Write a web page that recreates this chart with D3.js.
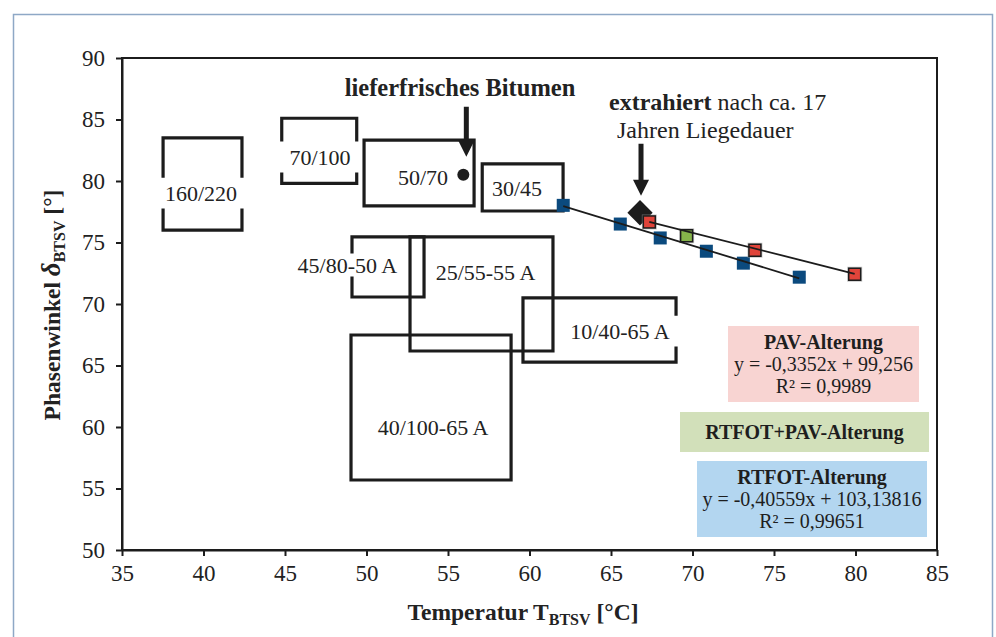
<!DOCTYPE html>
<html>
<head>
<meta charset="utf-8">
<script src="https://cdn.jsdelivr.net/npm/d3@7"></script>
<style>
  body { margin: 0; background: #fff; }
  svg { display: block; font-family: "Liberation Serif", "Times New Roman", serif; }
</style>
</head>
<body>
<svg id="chart" width="996" height="637"></svg>
<script>
// ---- axis ticks ----
const tempTicks = [35, 40, 45, 50, 55, 60, 65, 70, 75, 80, 85];
const phaseTicks = [50, 55, 60, 65, 70, 75, 80, 85, 90];

// ---- measured samples: temperature T_BTSV [°C] and phase angle δ_BTSV [°] ----
const rtfotTemp  = [62.07, 65.57, 68.02, 70.85, 73.12, 76.55];
const rtfotPhase = [78.02, 76.50, 75.37, 74.29, 73.32, 72.18];

const pavTemp  = [67.35, 73.83, 79.95];
const pavPhase = [76.67, 74.37, 72.42];

const rtfotPavTemp  = [69.64];
const rtfotPavPhase = [75.55];

const extractedTemp  = [66.78];
const extractedPhase = [77.42];

const freshTemp  = [55.94];
const freshPhase = [80.51];

// ---- linear fits ----
const rtfotFit = { slope: -0.40559, intercept: 103.13816, r2: 0.99651 };
const pavFit   = { slope: -0.3352,  intercept: 99.256,    r2: 0.9989 };

// ---- bitumen grade ranges ----
const gradeNames   = ["160/220", "70/100", "50/70", "30/45", "45/80-50 A", "25/55-55 A", "10/40-65 A", "40/100-65 A"];
const gradeTempMin = [37.52, 44.80, 49.85, 57.10, 49.11, 52.67, 59.60, 49.05];
const gradeTempMax = [42.36, 49.40, 56.60, 62.06, 53.53, 61.44, 68.99, 58.87];
const gradePhaseMin = [76.00, 79.80, 77.97, 77.56, 70.57, 66.18, 65.28, 55.69];
const gradePhaseMax = [83.50, 85.10, 83.33, 81.40, 75.45, 75.45, 70.49, 67.48];

// label anchors for the grade boxes (data units) and which box sides open up around the label
const gradeLabelLayout = [
  { t: 39.85, p: 79.02, gap: "lr", half: 17 },
  { t: 47.15, p: 81.95, gap: "lr", half: 17 },
  { t: 53.47, p: 80.33, gap: "",   half: 0 },
  { t: 59.23, p: 79.43, gap: "",   half: 0 },
  { t: 48.83, p: 73.17, gap: "l",  half: 13 },
  { t: 57.30, p: 72.60, gap: "",   half: 0 },
  { t: 65.55, p: 67.80, gap: "r",  half: 17 },
  { t: 54.08, p: 60.00, gap: "",   half: 0 }
];

const svg = d3.select("#chart");
const W = 996, H = 637;
const plot = { left: 122, right: 937, top: 58, bottom: 550 };

const x = d3.scaleLinear().domain([35, 85]).range([plot.left, plot.right]);
const y = d3.scaleLinear().domain([50, 90]).range([plot.bottom, plot.top]);

const ink = "#1c1c1c";
const de = v => String(v).replace(".", ",");

// outer frame (open at the bottom)
svg.append("path")
  .attr("d", `M13.5,${H + 5} V14.5 H992.5 V${H + 5}`)
  .attr("fill", "none").attr("stroke", "#8ea8c6").attr("stroke-width", 1.5);

// plot frame
svg.append("rect")
  .attr("x", plot.left).attr("y", plot.top)
  .attr("width", plot.right - plot.left).attr("height", plot.bottom - plot.top)
  .attr("fill", "none").attr("stroke", ink).attr("stroke-width", 2);

// axes
const xAxis = svg.append("g").attr("transform", `translate(0,${plot.bottom})`)
  .call(d3.axisBottom(x).tickValues(tempTicks).tickSize(6).tickSizeOuter(0).tickPadding(9).tickFormat(d3.format("d")));
const yAxis = svg.append("g").attr("transform", `translate(${plot.left},0)`)
  .call(d3.axisLeft(y).tickValues(phaseTicks).tickSize(6).tickSizeOuter(0).tickPadding(11).tickFormat(d3.format("d")));
[xAxis, yAxis].forEach(g => {
  g.select(".domain").attr("stroke", ink).attr("stroke-width", 2);
  g.selectAll(".tick line").attr("stroke", ink).attr("stroke-width", 2);
  g.selectAll(".tick text").attr("fill", "#222").attr("font-size", 23)
    .attr("font-family", "Liberation Serif, serif");
});

// axis titles
const xt = svg.append("text")
  .attr("x", 523).attr("y", 620).attr("text-anchor", "middle")
  .attr("font-size", 23.5).attr("font-weight", "bold").attr("fill", "#222");
xt.append("tspan").text("Temperatur T");
xt.append("tspan").attr("font-size", 16).attr("dy", 5).text("BTSV");
xt.append("tspan").attr("dy", -5).text(" [°C]");

const yt = svg.append("text")
  .attr("transform", "translate(60,305) rotate(-90)").attr("text-anchor", "middle")
  .attr("font-size", 23.5).attr("font-weight", "bold").attr("fill", "#222");
yt.append("tspan").text("Phasenwinkel ");
yt.append("tspan").attr("font-style", "italic").attr("font-size", 27).text("δ");
yt.append("tspan").attr("font-size", 16).attr("dy", 5).text("BTSV");
yt.append("tspan").attr("dy", -5).text(" [°]");

// grade boxes
const gBoxes = svg.append("g");
gradeNames.forEach((name, i) => {
  const x0 = x(gradeTempMin[i]), x1 = x(gradeTempMax[i]);
  const y0 = y(gradePhaseMax[i]), y1 = y(gradePhaseMin[i]);
  const L = gradeLabelLayout[i];
  const ly = y(L.p);
  const side = (xs, open) => open
    ? `M${xs},${y0} V${ly - L.half} M${xs},${ly + L.half} V${y1}`
    : `M${xs},${y0} V${y1}`;
  const d = `M${x0},${y0} H${x1} M${x0},${y1} H${x1} ` +
            side(x0, L.gap.includes("l")) + " " + side(x1, L.gap.includes("r"));
  gBoxes.append("path").attr("d", d)
    .attr("fill", "none").attr("stroke", ink).attr("stroke-width", 3.2)
    .attr("stroke-linecap", "square");
  gBoxes.append("text")
    .attr("x", x(L.t)).attr("y", ly).attr("dy", "0.35em")
    .attr("text-anchor", "middle").attr("font-size", 22).attr("fill", "#222")
    .text(name);
});

// fresh bitumen point
svg.append("g").selectAll("circle")
  .data(d3.zip(freshTemp, freshPhase)).join("circle")
  .attr("cx", d => x(d[0])).attr("cy", d => y(d[1])).attr("r", 6).attr("fill", ink);

// extracted bitumen diamond
svg.append("g").selectAll("path")
  .data(d3.zip(extractedTemp, extractedPhase)).join("path")
  .attr("transform", d => `translate(${x(d[0])},${y(d[1])}) rotate(45)`)
  .attr("d", d3.symbol(d3.symbolSquare, 320)())
  .attr("fill", ink);

// arrows
function arrowDown(tipX, tipY, len) {
  svg.append("path")
    .attr("d", `M${tipX - 2.5},${tipY - len} H${tipX + 2.5} V${tipY - 16} H${tipX + 8} L${tipX},${tipY} L${tipX - 8},${tipY - 16} H${tipX - 2.5} Z`)
    .attr("fill", ink);
}
arrowDown(x(freshTemp[0]) + 3, y(freshPhase[0]) - 18, 50);
arrowDown(x(extractedTemp[0]) + 1, y(extractedPhase[0]) - 17, 52);

svg.append("text").attr("x", 460).attr("y", 96).attr("text-anchor", "middle")
  .attr("font-size", 24.5).attr("font-weight", "bold").attr("fill", "#222")
  .text("lieferfrisches Bitumen");
const ex = svg.append("text").attr("x", 609).attr("y", 110).attr("font-size", 24).attr("fill", "#222");
ex.append("tspan").attr("font-weight", "bold").text("extrahiert");
ex.append("tspan").text(" nach ca. 17");
svg.append("text").attr("x", 617).attr("y", 138).attr("font-size", 24).attr("fill", "#222")
  .text("Jahren Liegedauer");

// RTFOT samples (blue squares)
svg.append("g").selectAll("rect")
  .data(d3.zip(rtfotTemp, rtfotPhase)).join("rect")
  .attr("x", d => x(d[0]) - 6.5).attr("y", d => y(d[1]) - 6.5)
  .attr("width", 13).attr("height", 13).attr("fill", "#0b4a7e");

// PAV samples (red squares)
const pavG = svg.append("g").selectAll("g")
  .data(d3.zip(pavTemp, pavPhase)).join("g")
  .attr("transform", d => `translate(${x(d[0])},${y(d[1])})`);
pavG.append("rect").attr("x", -7.5).attr("y", -7.5).attr("width", 15).attr("height", 15)
  .attr("fill", "#9a9a9a").attr("opacity", 0.55);
pavG.append("rect").attr("x", -6).attr("y", -6).attr("width", 12).attr("height", 12)
  .attr("fill", "#e0443a").attr("stroke", ink).attr("stroke-width", 1.5);

// RTFOT+PAV sample (green square)
const gpG = svg.append("g").selectAll("g")
  .data(d3.zip(rtfotPavTemp, rtfotPavPhase)).join("g")
  .attr("transform", d => `translate(${x(d[0])},${y(d[1])})`);
gpG.append("rect").attr("x", -7.5).attr("y", -7.5).attr("width", 15).attr("height", 15)
  .attr("fill", "#9a9a9a").attr("opacity", 0.55);
gpG.append("rect").attr("x", -6).attr("y", -6).attr("width", 12).attr("height", 12)
  .attr("fill", "#86b54a").attr("stroke", ink).attr("stroke-width", 1.5);

// regression lines
function fitLine(fit, temps) {
  const [t0, t1] = d3.extent(temps);
  svg.append("line")
    .attr("x1", x(t0)).attr("y1", y(fit.slope * t0 + fit.intercept))
    .attr("x2", x(t1)).attr("y2", y(fit.slope * t1 + fit.intercept))
    .attr("stroke", ink).attr("stroke-width", 1.8);
}
fitLine(rtfotFit, rtfotTemp);
fitLine(pavFit, pavTemp);

// legend boxes
function legendBox(bx, by, bw, bh, fill, lines) {
  const g = svg.append("g");
  g.append("rect").attr("x", bx).attr("y", by).attr("width", bw).attr("height", bh).attr("fill", fill);
  lines.forEach(ln => {
    g.append("text").attr("x", bx + bw / 2).attr("y", by + ln.y)
      .attr("text-anchor", "middle").attr("font-size", 20).attr("fill", "#1e1e1e")
      .attr("font-weight", ln.bold ? "bold" : "normal").text(ln.text);
  });
}
legendBox(728, 326, 191, 76, "#f8d4d2", [
  { text: "PAV-Alterung", bold: true, y: 23 },
  { text: `y = ${de(pavFit.slope)}x + ${de(pavFit.intercept)}`, y: 45 },
  { text: `R² = ${de(pavFit.r2)}`, y: 67 }
]);
legendBox(680, 412, 249, 40, "#d2e0ba", [
  { text: "RTFOT+PAV-Alterung", bold: true, y: 27 }
]);
legendBox(697, 461, 230, 76, "#b3d6f0", [
  { text: "RTFOT-Alterung", bold: true, y: 23 },
  { text: `y = ${de(rtfotFit.slope)}x + ${de(rtfotFit.intercept)}`, y: 45 },
  { text: `R² = ${de(rtfotFit.r2)}`, y: 67 }
]);
</script>
</body>
</html>
